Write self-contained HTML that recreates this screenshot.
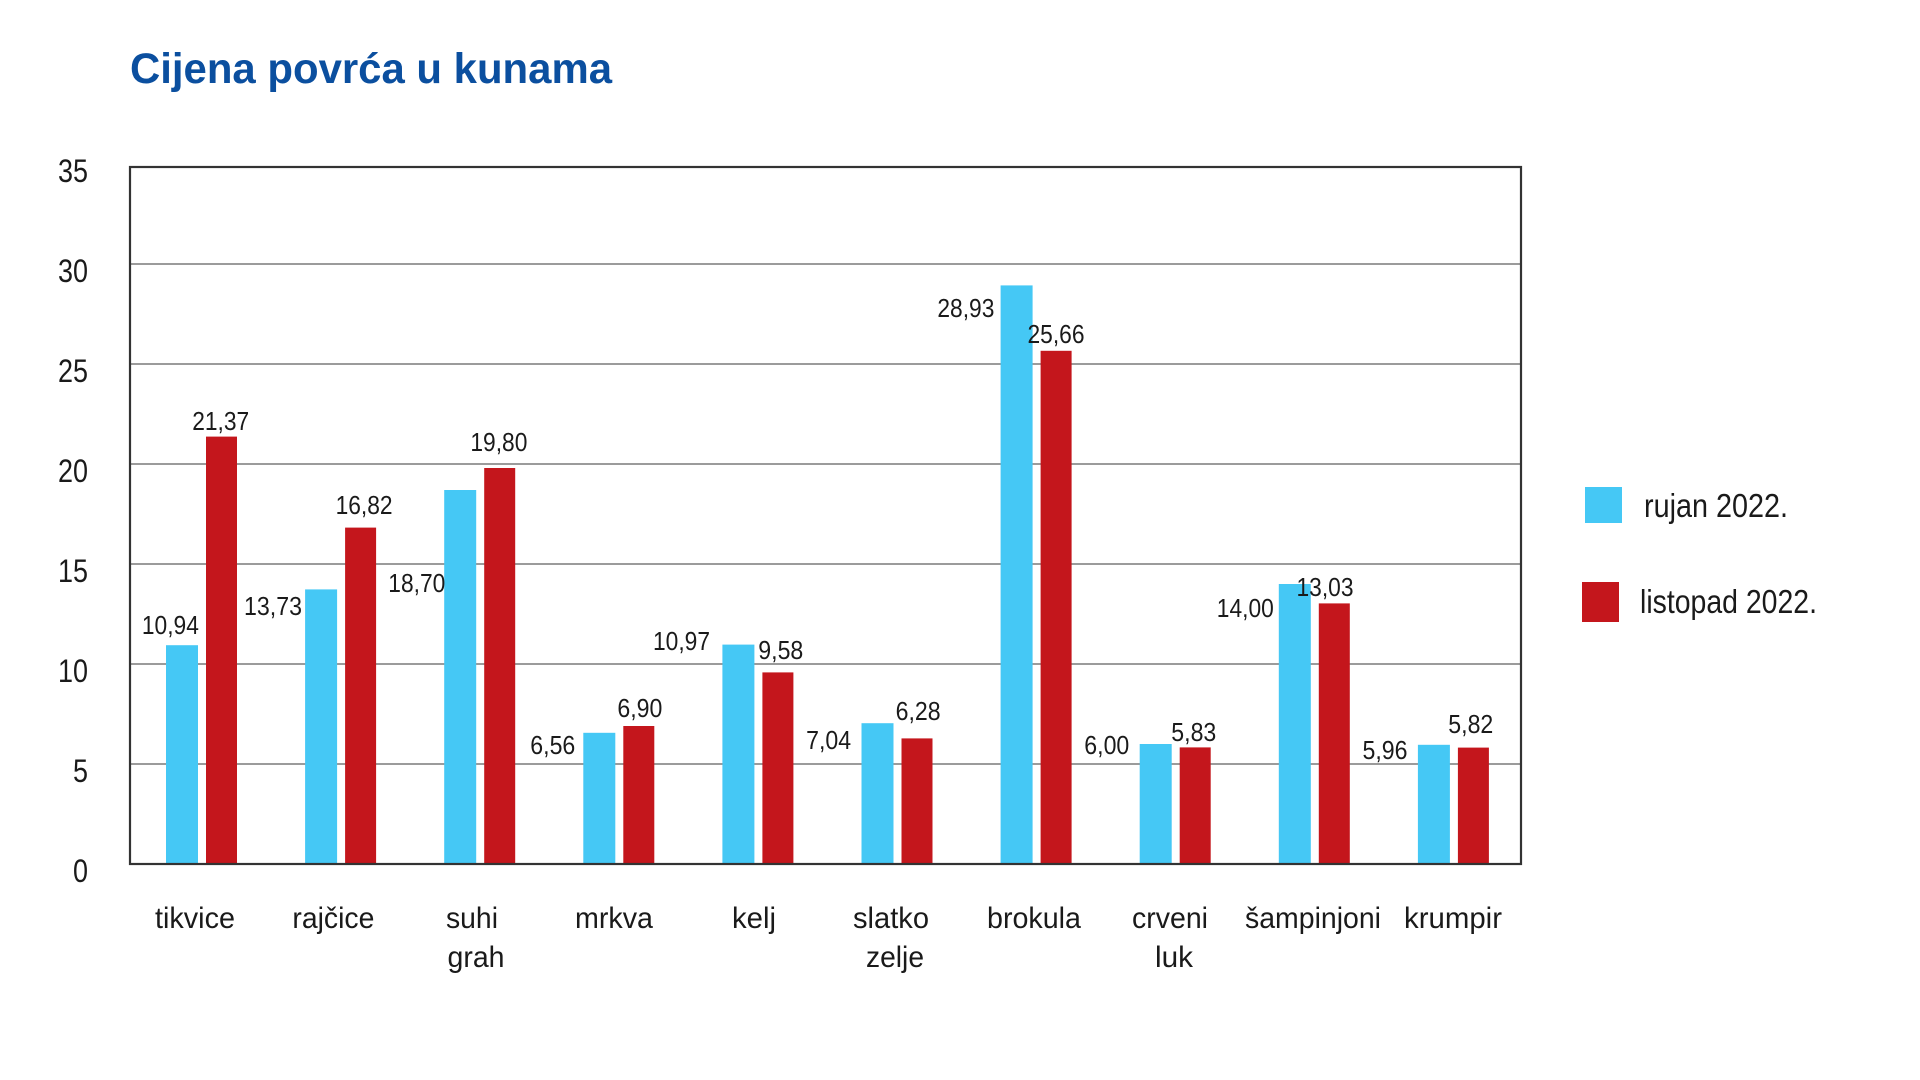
<!DOCTYPE html>
<html><head><meta charset="utf-8"><style>
html,body{margin:0;padding:0;background:#fff;}
svg{display:block;}
text{font-family:"Liberation Sans",sans-serif;fill:#1a1a1a;}
</style></head><body>
<svg width="1920" height="1080" viewBox="0 0 1920 1080" xmlns="http://www.w3.org/2000/svg">
<text x="130" y="83" font-size="43" font-weight="bold" style="fill:#0b4f9f" textLength="482" lengthAdjust="spacingAndGlyphs">Cijena povrća u kunama</text>
<g stroke="#7a7a7a" stroke-width="1.6">
<line x1="130" x2="1521" y1="264" y2="264"/><line x1="130" x2="1521" y1="364" y2="364"/>
<line x1="130" x2="1521" y1="464" y2="464"/><line x1="130" x2="1521" y1="564" y2="564"/>
<line x1="130" x2="1521" y1="664" y2="664"/><line x1="130" x2="1521" y1="764" y2="764"/>
</g>
<g font-size="32" text-anchor="end">
<text x="88" y="182" textLength="30" lengthAdjust="spacingAndGlyphs">35</text><text x="88" y="282" textLength="30" lengthAdjust="spacingAndGlyphs">30</text><text x="88" y="382" textLength="30" lengthAdjust="spacingAndGlyphs">25</text>
<text x="88" y="482" textLength="30" lengthAdjust="spacingAndGlyphs">20</text><text x="88" y="582" textLength="30" lengthAdjust="spacingAndGlyphs">15</text><text x="88" y="682" textLength="30" lengthAdjust="spacingAndGlyphs">10</text>
<text x="88" y="782" textLength="15" lengthAdjust="spacingAndGlyphs">5</text><text x="88" y="882" textLength="15" lengthAdjust="spacingAndGlyphs">0</text>
</g>
<g fill="#45c8f5">
<rect x="166" y="645.2" width="32" height="218.8"/>
<rect x="305.1" y="589.4" width="32" height="274.6"/>
<rect x="444.2" y="490" width="32" height="374"/>
<rect x="583.3" y="732.8" width="32" height="131.2"/>
<rect x="722.4" y="644.6" width="32" height="219.4"/>
<rect x="861.5" y="723.2" width="32" height="140.8"/>
<rect x="1000.6" y="285.4" width="32" height="578.6"/>
<rect x="1139.7" y="744" width="32" height="120"/>
<rect x="1278.8" y="584" width="32" height="280"/>
<rect x="1417.9" y="744.8" width="32" height="119.2"/>
</g>
<g fill="#c4161c">
<rect x="206" y="436.6" width="31" height="427.4"/>
<rect x="345.1" y="527.6" width="31" height="336.4"/>
<rect x="484.2" y="468" width="31" height="396"/>
<rect x="623.3" y="726" width="31" height="138"/>
<rect x="762.4" y="672.4" width="31" height="191.6"/>
<rect x="901.5" y="738.4" width="31" height="125.6"/>
<rect x="1040.6" y="350.8" width="31" height="513.2"/>
<rect x="1179.7" y="747.4" width="31" height="116.6"/>
<rect x="1318.8" y="603.4" width="31" height="260.6"/>
<rect x="1457.9" y="747.6" width="31" height="116.4"/>
</g>
<rect x="130" y="167" width="1391" height="697" fill="none" stroke="#333" stroke-width="2.2"/>
<g font-size="26" text-anchor="middle">
<text x="170.4" y="634" textLength="57" lengthAdjust="spacingAndGlyphs">10,94</text>
<text x="220.7" y="430" textLength="57" lengthAdjust="spacingAndGlyphs">21,37</text>
<text x="273" y="615" textLength="58" lengthAdjust="spacingAndGlyphs">13,73</text>
<text x="364.1" y="514" textLength="57" lengthAdjust="spacingAndGlyphs">16,82</text>
<text x="416.8" y="592" textLength="57" lengthAdjust="spacingAndGlyphs">18,70</text>
<text x="498.9" y="451" textLength="57" lengthAdjust="spacingAndGlyphs">19,80</text>
<text x="552.8" y="754" textLength="45" lengthAdjust="spacingAndGlyphs">6,56</text>
<text x="639.9" y="717" textLength="45" lengthAdjust="spacingAndGlyphs">6,90</text>
<text x="681.5" y="650" textLength="57" lengthAdjust="spacingAndGlyphs">10,97</text>
<text x="780.8" y="659" textLength="45" lengthAdjust="spacingAndGlyphs">9,58</text>
<text x="828.6" y="749" textLength="45" lengthAdjust="spacingAndGlyphs">7,04</text>
<text x="918.1" y="720" textLength="45" lengthAdjust="spacingAndGlyphs">6,28</text>
<text x="965.9" y="317" textLength="57" lengthAdjust="spacingAndGlyphs">28,93</text>
<text x="1056" y="343" textLength="57" lengthAdjust="spacingAndGlyphs">25,66</text>
<text x="1106.8" y="754" textLength="45" lengthAdjust="spacingAndGlyphs">6,00</text>
<text x="1193.8" y="741" textLength="45" lengthAdjust="spacingAndGlyphs">5,83</text>
<text x="1245.3" y="617" textLength="57" lengthAdjust="spacingAndGlyphs">14,00</text>
<text x="1325" y="596" textLength="57" lengthAdjust="spacingAndGlyphs">13,03</text>
<text x="1385" y="759" textLength="45" lengthAdjust="spacingAndGlyphs">5,96</text>
<text x="1470.8" y="733" textLength="45" lengthAdjust="spacingAndGlyphs">5,82</text>
</g>
<g font-size="30" text-anchor="middle">
<text x="195" y="928" textLength="80" lengthAdjust="spacingAndGlyphs">tikvice</text>
<text x="333.4" y="928" textLength="82" lengthAdjust="spacingAndGlyphs">rajčice</text>
<text x="472" y="928" textLength="52" lengthAdjust="spacingAndGlyphs">suhi</text><text x="476" y="967" textLength="57" lengthAdjust="spacingAndGlyphs">grah</text>
<text x="614" y="928" textLength="78" lengthAdjust="spacingAndGlyphs">mrkva</text>
<text x="754" y="928" textLength="44" lengthAdjust="spacingAndGlyphs">kelj</text>
<text x="891" y="928" textLength="76" lengthAdjust="spacingAndGlyphs">slatko</text><text x="895" y="967" textLength="58" lengthAdjust="spacingAndGlyphs">zelje</text>
<text x="1034" y="928" textLength="94" lengthAdjust="spacingAndGlyphs">brokula</text>
<text x="1170" y="928" textLength="76" lengthAdjust="spacingAndGlyphs">crveni</text><text x="1174" y="967" textLength="38" lengthAdjust="spacingAndGlyphs">luk</text>
<text x="1313" y="928" textLength="136" lengthAdjust="spacingAndGlyphs">šampinjoni</text>
<text x="1453" y="928" textLength="98" lengthAdjust="spacingAndGlyphs">krumpir</text>
</g>
<rect x="1585" y="487" width="37" height="36" fill="#45c8f5"/>
<rect x="1582" y="582" width="37" height="40" fill="#c4161c"/>
<text x="1644" y="517" font-size="33" textLength="144" lengthAdjust="spacingAndGlyphs">rujan 2022.</text>
<text x="1640" y="613" font-size="33" textLength="177" lengthAdjust="spacingAndGlyphs">listopad 2022.</text>
</svg>
</body></html>
